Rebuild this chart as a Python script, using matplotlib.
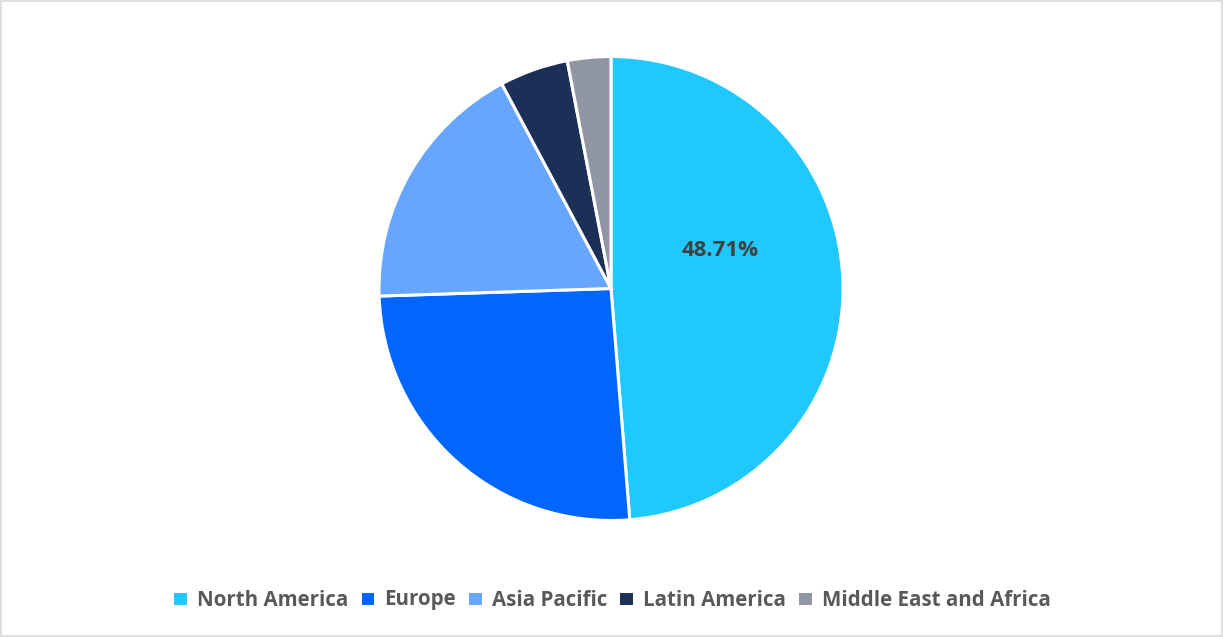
import matplotlib.pyplot as plt
from matplotlib.patches import Rectangle

# datos del grafico
regions = ['North America', 'Europe', 'Asia Pacific', 'Latin America', 'Middle East and Africa']
shares = [48.71, 25.77, 17.72, 4.78, 3.02]
colors = ['#1FC8FF', '#0066FF', '#66A6FF', '#1B2F57', '#9096A3']

plt.rcParams['font.family'] = ['Open Sans', 'DejaVu Sans']

fig = plt.figure(figsize=(12.23, 6.37), dpi=100)

# marco gris alrededor
fig.patches.append(Rectangle((0.0008, 0.0015), 0.9984, 0.997, transform=fig.transFigure,
                             fill=False, edgecolor='#D9D9D9', linewidth=1.2))

r_px = 232
cx, cy = 611, 288.5
ax = fig.add_axes([(cx - r_px) / 1223, 1 - (cy + r_px) / 637, 2 * r_px / 1223, 2 * r_px / 637])

wedges, _ = ax.pie(shares, colors=colors, startangle=90, counterclock=False,
                   wedgeprops=dict(edgecolor='white', linewidth=2.2))
ax.set_xlim(-1, 1)
ax.set_ylim(-1, 1)
ax.set_aspect('auto')

# etiqueta solo para la porcion mayor
ax.text(0.47, 0.165, f'{shares[0]:.2f}%', ha='center', va='center',
        fontsize=16, fontweight='bold', color='#404040')

fig.legend(wedges, regions, loc='center', bbox_to_anchor=(0.5, 1 - 600 / 637), ncol=5,
           frameon=False, handlelength=0.75, handleheight=0.75,
           handletextpad=0.45, columnspacing=0.55, labelcolor='#595959',
           prop={'weight': 'bold', 'size': 14.8})

fig.savefig('out.png', dpi=100)
